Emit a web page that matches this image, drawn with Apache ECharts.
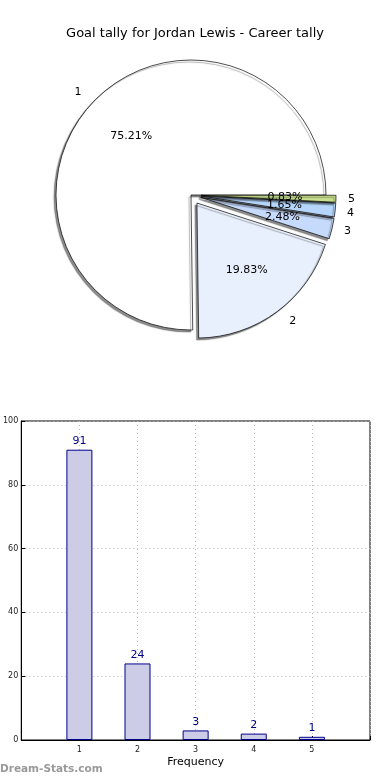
<!DOCTYPE html>
<html>
<head>
<meta charset="utf-8">
<script src="https://cdn.jsdelivr.net/npm/echarts@6/dist/echarts.min.js"></script>
<style>
html,body{margin:0;padding:0;background:#fff;}
#c{width:390px;height:780px;}
</style>
</head>
<body>
<div id="c"></div>
<script>
var categories = ['1', '2', '3', '4', '5'];
var goals = [91, 24, 3, 2, 1];
var sliceColors = ['#ffffff', '#e9f0fd', '#c6dafc', '#b5d5fb', '#c8e08e'];
var exploded = [false, true, true, true, true];
var yTicks = [0, 20, 40, 60, 80, 100];

var FONT = 'DejaVu Sans';
var chart = echarts.init(document.getElementById('c'), null, {renderer: 'canvas'});

var pieMain = categories.map(function (c, i) {
  return {name: c, value: goals[i], selected: exploded[i], itemStyle: {color: sliceColors[i]}};
});

// one transparent overlay series per slice so no percent label hides another
var overlaySeries = categories.map(function (c, k) {
  return {
    type: 'pie',
    center: [191, 195],
    radius: [0, 162],
    startAngle: 0,
    clockwise: false,
    selectedMode: 'multiple',
    selectedOffset: 10,
    avoidLabelOverlap: false,
    labelLayout: {hideOverlap: false},
    minShowLabelAngle: 0,
    silent: true,
    z: 3,
    itemStyle: {color: 'rgba(0,0,0,0)', borderWidth: 0},
    labelLine: {show: false},
    emphasis: {disabled: true},
    data: categories.map(function (cc, i) {
      return {
        name: cc, value: goals[i], selected: exploded[i],
        label: {
          show: i === k, position: 'inside', formatter: '{d}%',
          fontFamily: FONT, fontSize: 11, color: '#000', overflow: 'none'
        }
      };
    })
  };
});

chart.setOption({
  animation: false,
  backgroundColor: '#fff',
  textStyle: {fontFamily: FONT},
  title: {
    text: 'Goal tally for Jordan Lewis - Career tally',
    left: 'center', top: 22,
    textStyle: {fontFamily: FONT, fontSize: 13, fontWeight: 'normal', color: '#000'}
  },
  graphic: [{
    type: 'text', left: 0, top: 764,
    style: {text: 'Dream-Stats.com', font: 'bold 10.5px "DejaVu Sans"', fill: '#999'}
  }],
  grid: {
    left: 19, right: 20, top: 421, bottom: 40,
    show: true, borderColor: '#000', borderWidth: 1, backgroundColor: 'transparent'
  },
  xAxis: {
    type: 'value', min: 0, max: 6, interval: 1,
    name: 'Frequency', nameLocation: 'middle', nameGap: 17,
    nameTextStyle: {fontFamily: FONT, fontSize: 11, color: '#000'},
    axisLine: {show: true, lineStyle: {color: '#000'}},
    axisTick: {show: true, inside: true, length: 4, lineStyle: {color: '#000'}},
    axisLabel: {
      fontFamily: FONT, fontSize: 8, color: '#222', margin: 6,
      formatter: function (v) { return categories.indexOf(String(v)) >= 0 ? String(v) : ''; }
    },
    splitLine: {show: true, lineStyle: {color: '#bbbbbb', type: [1, 3], width: 1}}
  },
  yAxis: {
    type: 'value', min: yTicks[0], max: yTicks[yTicks.length - 1], interval: yTicks[1] - yTicks[0],
    axisLine: {show: true, lineStyle: {color: '#000'}},
    axisTick: {show: true, inside: true, length: 4, lineStyle: {color: '#000'}},
    axisLabel: {fontFamily: FONT, fontSize: 8, color: '#222', margin: 3},
    splitLine: {show: true, lineStyle: {color: '#bbbbbb', type: [1, 3], width: 1}}
  },
  series: [
    {
      type: 'pie',
      center: [191, 195],
      radius: [0, 135],
      startAngle: 0,
      clockwise: false,
      selectedMode: 'multiple',
      selectedOffset: 10,
      avoidLabelOverlap: true,
      silent: true,
      itemStyle: {
        borderColor: '#000', borderWidth: 0.7,
        shadowColor: 'rgba(0,0,0,0.45)', shadowBlur: 1, shadowOffsetX: -2, shadowOffsetY: 2
      },
      label: {
        show: true, position: 'outside', formatter: '{b}',
        fontFamily: FONT, fontSize: 11, color: '#000'
      },
      labelLine: {show: false, length: 12, length2: 0},
      emphasis: {disabled: true},
      data: pieMain
    }
  ].concat(overlaySeries).concat([
    {
      type: 'bar',
      barWidth: 26,
      itemStyle: {color: '#ccccE6', borderColor: '#00008b', borderWidth: 1},
      label: {show: true, position: 'top', distance: 3, fontFamily: FONT, fontSize: 11, color: '#00008b'},
      emphasis: {disabled: true},
      data: categories.map(function (c, i) { return [Number(c), goals[i]]; })
    }
  ])
});
</script>
</body>
</html>
